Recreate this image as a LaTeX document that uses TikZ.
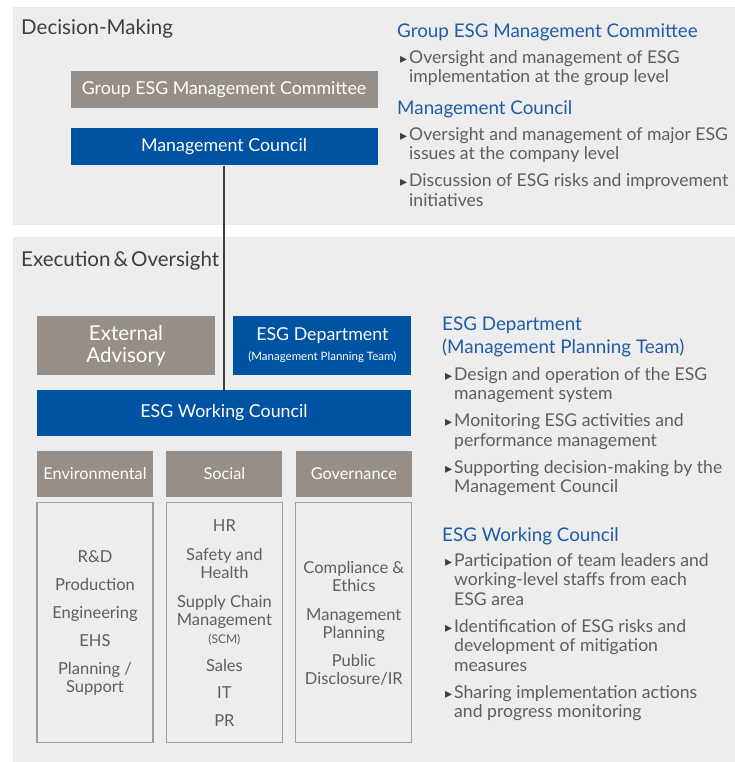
\documentclass[tikz,border=0pt]{standalone}
\usepackage{fontspec}
\setmainfont{Lato}
\newfontfamily\symfont{DejaVu Sans}
\usetikzlibrary{positioning}

\definecolor{esgblue}{HTML}{0052A3}
\definecolor{esgheadblue}{HTML}{1F5CA8}
\definecolor{esggrey}{HTML}{978F87}
\definecolor{esgpanel}{HTML}{EDEDED}
\definecolor{esgline}{HTML}{A39C95}
\definecolor{esgtext}{HTML}{5E5E5E}
\definecolor{esgdark}{HTML}{3E3E3E}

\newcommand{\bul}{\llap{{\symfont\color{esgdark}\fontsize{14}{14}\selectfont ▸}\hspace{2pt}}}

\begin{document}
\begin{tikzpicture}[x=1pt,y=-1pt]
  \tikzset{
    greybox/.style={fill=esggrey,text=white,inner sep=0pt,align=center},
    bluebox/.style={fill=esgblue,text=white,inner sep=0pt,align=center},
    colhead/.style={greybox,minimum width=116pt,minimum height=46pt,font=\fontsize{16.3}{18}\selectfont},
    listbox/.style={draw=esgline,line width=1.2pt,fill=esgpanel,minimum width=116pt,minimum height=240pt,
                    inner sep=0pt,align=center,text=esgtext,font=\fontsize{16.5}{18}\selectfont},
    section/.style={anchor=base west,inner sep=0pt,text=esgdark,font=\fontsize{20.5}{24}\selectfont},
    heading/.style={anchor=base west,inner sep=0pt,text=esgheadblue,font=\fontsize{18.8}{21}\selectfont},
    itemtext/.style={anchor=north west,inner sep=0pt,align=left,text=esgtext,font=\fontsize{17.6}{19.5}\selectfont},
    link/.style={draw=esgdark,line width=1.3pt}
  }
  \useasboundingbox (0,0) rectangle (735,762);

  % two panels
  \fill[esgpanel] (13,7) rectangle (735,225);
  \fill[esgpanel] (13,237) rectangle (735,762);

  \node[section] (dm) at (21,35) {Decision-Making};
  \node[section] (eo) at (21,266) {Execution\hspace{3pt}\&\hspace{3pt}Oversight};

  % decision-making boxes
  \node[greybox,minimum width=307pt,minimum height=37pt,font=\fontsize{17.8}{20}\selectfont] (gemc) at (224,89.5) {Group ESG Management Committee};
  \node[bluebox,minimum width=307pt,minimum height=37pt,font=\fontsize{17.8}{20}\selectfont] (mc) [below = 20pt of gemc] {Management Council};

  % execution boxes
  \node[greybox,minimum width=178pt,minimum height=59pt,font=\fontsize{20.5}{22}\selectfont] (ext) at (126,345.5) {External\\Advisory};
  \node[bluebox,minimum width=178pt,minimum height=59pt,font=\fontsize{17.8}{20}\selectfont] (dept) [right = 18pt of ext]
    {ESG Department\\{\fontsize{11.5}{12}\selectfont (Management Planning Team)}};
  \node[bluebox,minimum width=374pt,minimum height=46pt,font=\fontsize{17.8}{20}\selectfont] (wc) at (224,413) {ESG Working Council};

  \node[colhead] (env) at (95,474) {Environmental};
  \node[colhead] (soc) [right = 13pt of env] {Social};
  \node[colhead] (gov) [right = 13pt of soc] {Governance};

  \node[listbox] (envlist) [below = 5pt of env]
    {R\&D\\[10pt]Production\\[10pt]Engineering\\[10pt]EHS\\[10pt]Planning /\\Support};
  \node[listbox] (soclist) [below = 5pt of soc]
    {HR\\[11pt]Safety and\\Health\\[11pt]Supply Chain\\Management\\{\fontsize{12}{18}\selectfont (SCM)}\\[10pt]Sales\\[9pt]IT\\[10pt]PR};
  \node[listbox] (govlist) [below = 5pt of gov]
    {Compliance \&\\Ethics\\[11pt]Management\\Planning\\[10pt]Public\\Disclosure/IR};

  \draw[link] (mc) -- (wc);

  % right-hand notes
  \node[heading] (hgemc) at (397,38) {Group ESG Management Committee};
  \node[itemtext] (tgemc) at (409,50)
    {\bul Oversight and management of ESG\\implementation at the group level};
  \node[heading] (hmc) at (397,115) {Management Council};
  \node[itemtext] (tmc) at (409,127)
    {\bul Oversight and management of major ESG\\issues at the company level\\[7.5pt]
     \bul Discussion of ESG risks and improvement\\initiatives};
  \node[heading] (hdept) at (442,330) {ESG Department};
  \node[heading] (hdept2) [below = 5pt of hdept.south west, anchor=north west] {(Management Planning Team)};
  \node[itemtext] (tdept) at (454,367)
    {\bul Design and operation of the ESG\\management system\\[7.5pt]
     \bul Monitoring ESG activities and\\performance management\\[7.5pt]
     \bul Supporting decision-making by the\\Management Council};
  \node[heading] (hwc) at (442,541) {ESG Working Council};
  \node[itemtext] (twc) at (454,553)
    {\bul Participation of team leaders and\\working-level staffs from each\\ESG area\\[7.5pt]
     \bul Identification of ESG risks and\\development of mitigation\\measures\\[7.5pt]
     \bul Sharing implementation actions\\and progress monitoring};
\end{tikzpicture}
\end{document}
